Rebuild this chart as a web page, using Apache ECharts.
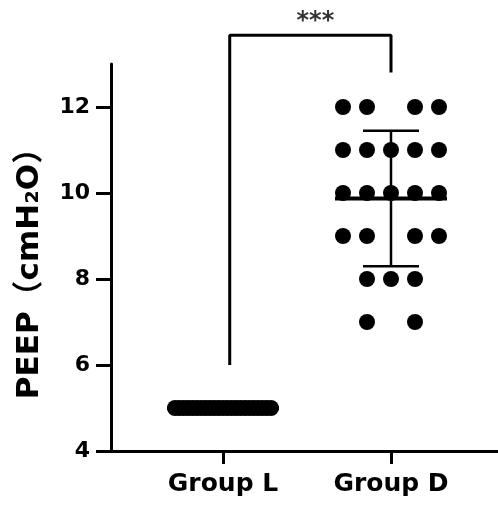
<!DOCTYPE html>
<html><head><meta charset="utf-8">
<script src="https://cdn.jsdelivr.net/npm/echarts@6/dist/echarts.min.js"></script>
<style>html,body{margin:0;padding:0;background:#fff}#c{width:498px;height:506px}</style>
</head><body><div id="c"></div>
<script>
// ---- data ----
const categories = ['Group L', 'Group D'];
const groupL = [5,5,5,5,5,5,5,5,5,5,5,5,5,5,5,5,5,5,5,5,5,5,5];
const groupD = [12,12,12,12, 11,11,11,11,11, 10,10,10,10,10, 9,9,9,9, 8,8,8, 7,7];
const yTicks = [4, 6, 8, 10, 12];
const yRange = [4, 13];
const yTitle = 'PEEP（cmH₂O）';
const sigText = '***';
const bracketX = [1.04, 2.0];          // left / right legs (category units)
const bracketY = [6, 13.67, 12.8];     // left foot, top, right foot
const sigPos = [1.55, 13.98];

// ---- layout helpers ----
const SLOT_PX = 24, MAX_SPAN_PX = 96, DOT_R = 8;
function swarm(values, g) {
  const counts = {}, used = {};
  values.forEach(v => counts[v] = (counts[v] || 0) + 1);
  return values.map(v => {
    const n = counts[v];
    const i = used[v] = (used[v] === undefined ? 0 : used[v] + 1);
    let slot;
    if (n % 2) { slot = i === 0 ? 0 : (i % 2 ? -Math.ceil(i / 2) : i / 2); }
    else { const m = Math.floor(i / 2) + 1; slot = i % 2 ? m : -m; }
    const span = n % 2 ? (n - 1) : (n + 0);
    const spacing = Math.min(SLOT_PX, MAX_SPAN_PX / Math.max(span, 1));
    return [g, v, slot, spacing];
  });
}
function meanSd(values) {
  const m = values.reduce((a, b) => a + b, 0) / values.length;
  const sd = Math.sqrt(values.reduce((a, b) => a + (b - m) * (b - m), 0) / (values.length - 1));
  return [m, sd];
}
const groups = [groupL, groupD];
const dotData = [].concat(...groups.map((vals, k) => swarm(vals, k + 1)));
const statData = groups.map((vals, k) => [k + 1].concat(meanSd(vals)));

const FONT = '"DejaVu Sans", "Noto Sans CJK SC", sans-serif';
const chart = echarts.init(document.getElementById('c'), null, {renderer: 'canvas'});
const gridLeft = 111, gridRight = 0, catPx = 168;
const xMin = 1 - 112 / catPx, xMax = xMin + (498 - gridLeft - gridRight) / catPx;

chart.setOption({
  animation: false,
  backgroundColor: '#fff',
  grid: {left: gridLeft, right: gridRight, top: 64, bottom: 55, containLabel: false, outerBoundsMode: 'none'},
  xAxis: {
    type: 'value', min: xMin, max: xMax,
    splitLine: {show: false},
    axisLine: {show: true, onZero: false, lineStyle: {color: '#000', width: 3}},
    axisTick: {show: true, customValues: [1, 2], length: 13, lineStyle: {color: '#000', width: 3}},
    axisLabel: {customValues: [1, 2], margin: 21, color: '#000', fontSize: 25, fontWeight: 'bold', fontFamily: FONT,
      formatter: v => categories[Math.round(v) - 1] || ''}
  },
  yAxis: {
    type: 'value', min: yRange[0], max: yRange[1],
    splitLine: {show: false},
    axisLine: {show: true, onZero: false, lineStyle: {color: '#000', width: 3}},
    axisTick: {show: true, customValues: yTicks, length: 15, lineStyle: {color: '#000', width: 3}},
    axisLabel: {customValues: yTicks, margin: 21, color: '#000', fontSize: 22, fontWeight: 'bold', fontFamily: FONT,
      formatter: v => yTicks.indexOf(v) >= 0 ? String(v) : ''}
  },
  graphic: [{
    type: 'text', x: 30, y: 266, rotation: Math.PI / 2,
    style: {text: yTitle, fill: '#000', font: 'bold 31px ' + FONT, align: 'center', verticalAlign: 'middle'}
  }],
  series: [
    {
      type: 'custom', data: dotData, encode: {x: 0, y: 1}, silent: true, z: 3,
      renderItem: (params, api) => {
        const p = api.coord([api.value(0), api.value(1)]);
        return {type: 'circle', shape: {cx: p[0] + api.value(2) * api.value(3), cy: p[1], r: DOT_R}, style: {fill: '#000'}};
      }
    },
    {
      type: 'custom', data: statData, encode: {x: 0, y: 1}, silent: true, z: 4,
      renderItem: (params, api) => {
        const g = api.value(0), m = api.value(1), s = api.value(2);
        const c = api.coord([g, m]), t = api.coord([g, m + s]), b = api.coord([g, m - s]);
        const st = {stroke: '#000', lineWidth: 2.5};
        return {type: 'group', children: [
          {type: 'line', shape: {x1: c[0], y1: t[1], x2: c[0], y2: b[1]}, style: st},
          {type: 'line', shape: {x1: c[0] - 28, y1: t[1], x2: c[0] + 28, y2: t[1]}, style: st},
          {type: 'line', shape: {x1: c[0] - 28, y1: b[1], x2: c[0] + 28, y2: b[1]}, style: st},
          {type: 'line', shape: {x1: c[0] - 56, y1: c[1], x2: c[0] + 56, y2: c[1]}, style: {stroke: '#000', lineWidth: 4}}
        ]};
      }
    },
    {
      type: 'line', silent: true, clip: false, symbol: 'none', z: 2,
      lineStyle: {color: '#000', width: 3},
      data: [[bracketX[0], bracketY[0]], [bracketX[0], bracketY[1]], [bracketX[1], bracketY[1]], [bracketX[1], bracketY[2]]]
    },
    {
      type: 'scatter', silent: true, clip: false, symbolSize: 0, data: [sigPos],
      label: {show: true, position: 'inside', formatter: sigText, color: '#000', fontSize: 24, fontWeight: 'bold', fontFamily: '"DejaVu Sans", sans-serif'}
    }
  ]
});
</script></body></html>
